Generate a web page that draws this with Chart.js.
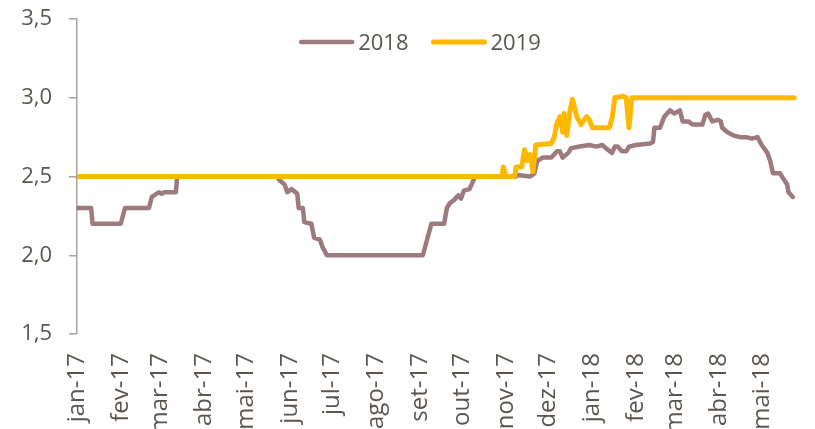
<!DOCTYPE html>
<html><head><meta charset="utf-8">
<script src="https://cdn.jsdelivr.net/npm/chart.js@4/dist/chart.umd.min.js"></script>
<style>html,body{margin:0;padding:0;background:#fff;overflow:hidden}#wrap{width:815px;height:429px;position:relative}</style>
</head><body><div id="wrap"><canvas id="c" width="815" height="429"></canvas></div>
<script>
// ---- data ----
const seriesNames = ['2018', '2019'];
const monthLabels = ['jan-17','fev-17','mar-17','abr-17','mai-17','jun-17','jul-17','ago-17','set-17','out-17','nov-17','dez-17','jan-18','fev-18','mar-18','abr-18','mai-18'];
// day offsets (from 1 Jan 2017) of the first day of each labelled month
const monthStartDays = [0,31,59,90,120,151,181,212,243,273,304,334,365,396,424,455,485];
const yTicks = [1.5, 2.0, 2.5, 3.0, 3.5];

// series "2018": day offsets and values
const days2018 = [0,10,11,31,34,51,53,58,60,62,70,71,142,143,147,149,152,156,157,160,161,166,168,172,174,177,245,251,260,262,264,267,270,272,274,278,280,282,311,312,321,324,326,330,336,340,342,344,348,350,356,363,368,372,376,379,381,383,386,389,391,396,406,408,409,413,416,420,423,427,429,433,436,443,445,447,450,454,456,457,461,465,470,474,478,482,485,489,491,493,498,500,503,504,507];
const vals2018 = [2.3,2.3,2.2,2.2,2.3,2.3,2.37,2.40,2.39,2.40,2.40,2.5,2.5,2.48,2.45,2.40,2.42,2.39,2.3,2.3,2.21,2.2,2.11,2.1,2.05,2.0,2.0,2.2,2.2,2.3,2.33,2.35,2.38,2.36,2.41,2.42,2.46,2.5,2.5,2.51,2.50,2.52,2.6,2.62,2.62,2.66,2.66,2.62,2.65,2.68,2.69,2.7,2.69,2.7,2.67,2.65,2.69,2.69,2.66,2.66,2.69,2.7,2.71,2.72,2.81,2.81,2.88,2.92,2.9,2.92,2.85,2.85,2.83,2.83,2.89,2.9,2.85,2.86,2.85,2.81,2.78,2.76,2.75,2.75,2.74,2.75,2.7,2.65,2.6,2.52,2.52,2.49,2.45,2.4,2.37];

// series "2019": day offsets and values
const days2019 = [0,301,302,304,310,311,315,317,319,321,323,325,336,338,340,342,344,345,347,349,351,354,357,361,363,365,377,379,381,387,389,391,393,396,508];
const vals2019 = [2.5,2.5,2.56,2.5,2.5,2.56,2.56,2.67,2.6,2.64,2.53,2.7,2.71,2.75,2.84,2.88,2.78,2.9,2.76,2.91,2.99,2.88,2.83,2.88,2.86,2.81,2.81,2.87,3.0,3.01,3.0,2.81,3.0,3.0,3.0];

// ---- styles ----
const COL2018 = '#9c7a7d';
const COL2019 = '#ffb800';
const TEXT = '#5b554e';
const AXIS = '#a8a29e';
const FONT = '"Open Sans", sans-serif';

const toPts = (d, v) => d.map((x, i) => ({x: x, y: v[i]}));

const legendPlugin = {
  id: 'topLegend',
  afterDraw(chart) {
    const ctx = chart.ctx;
    const items = chart.data.datasets.map(ds => ({label: ds.label, color: ds.borderColor, w: ds.legendWidth}));
    ctx.save();
    ctx.font = '22px ' + FONT;
    const lineLen = 55, gap = 4, spacing = 23;
    let total = 0;
    items.forEach((it, i) => { it.tw = ctx.measureText(it.label).width; total += lineLen + gap + it.tw + (i ? spacing : 0); });
    let x = 420 - total / 2;
    const y = 43;
    items.forEach((it, i) => {
      if (i) x += spacing;
      ctx.strokeStyle = it.color; ctx.lineWidth = it.w; ctx.lineCap = 'round';
      ctx.beginPath(); ctx.moveTo(x + 2, y - 1); ctx.lineTo(x + lineLen - 2, y - 1); ctx.stroke();
      x += lineLen + gap;
      ctx.fillStyle = TEXT; ctx.textBaseline = 'middle'; ctx.textAlign = 'left';
      ctx.fillText(it.label, x, y + 1);
      x += it.tw;
    });
    ctx.restore();
  }
};

new Chart(document.getElementById('c'), {
  type: 'line',
  data: {
    datasets: [
      {label: seriesNames[0], data: toPts(days2018, vals2018), borderColor: COL2018, borderWidth: 4.5, legendWidth: 4.5, order: 1},
      {label: seriesNames[1], data: toPts(days2019, vals2019), borderColor: COL2019, borderWidth: 5, legendWidth: 5, order: 0}
    ]
  },
  options: {
    responsive: false,
    devicePixelRatio: 1,
    animation: false,
    layout: {padding: {left: 0, right: 18, top: 19, bottom: 0}},
    elements: {
      point: {radius: 0, hoverRadius: 0},
      line: {tension: 0, borderCapStyle: 'round', borderJoinStyle: 'round', fill: false}
    },
    plugins: {legend: {display: false}, tooltip: {enabled: false}},
    scales: {
      x: {
        type: 'linear', min: 0, max: 510,
        afterBuildTicks: s => { s.ticks = monthStartDays.map(v => ({value: v})); },
        afterFit: s => { s.height = 95; s.paddingLeft = 0; s.paddingRight = 0; s.paddingTop = 0; s.paddingBottom = 0; },
        grid: {display: false, drawTicks: false},
        border: {display: false},
        ticks: {
          autoSkip: false, minRotation: 90, maxRotation: 90, padding: 19,
          color: TEXT, font: {family: FONT, size: 24},
          callback: v => monthLabels[monthStartDays.indexOf(v)]
        }
      },
      y: {
        min: 1.5, max: 3.5,
        afterBuildTicks: s => { s.ticks = yTicks.map(v => ({value: v})); },
        afterFit: s => { s.width = 77; s.paddingTop = 0; s.paddingBottom = 0; s.paddingLeft = 0; s.paddingRight = 0; },
        grid: {drawOnChartArea: false, drawTicks: true, tickLength: 8, color: AXIS, lineWidth: 1.5},
        border: {display: true, color: AXIS, width: 1.5},
        ticks: {
          padding: 17, color: TEXT, font: {family: FONT, size: 22},
          callback: v => v.toFixed(1).replace('.', ',')
        }
      }
    }
  },
  plugins: [legendPlugin]
});
</script></body></html>
